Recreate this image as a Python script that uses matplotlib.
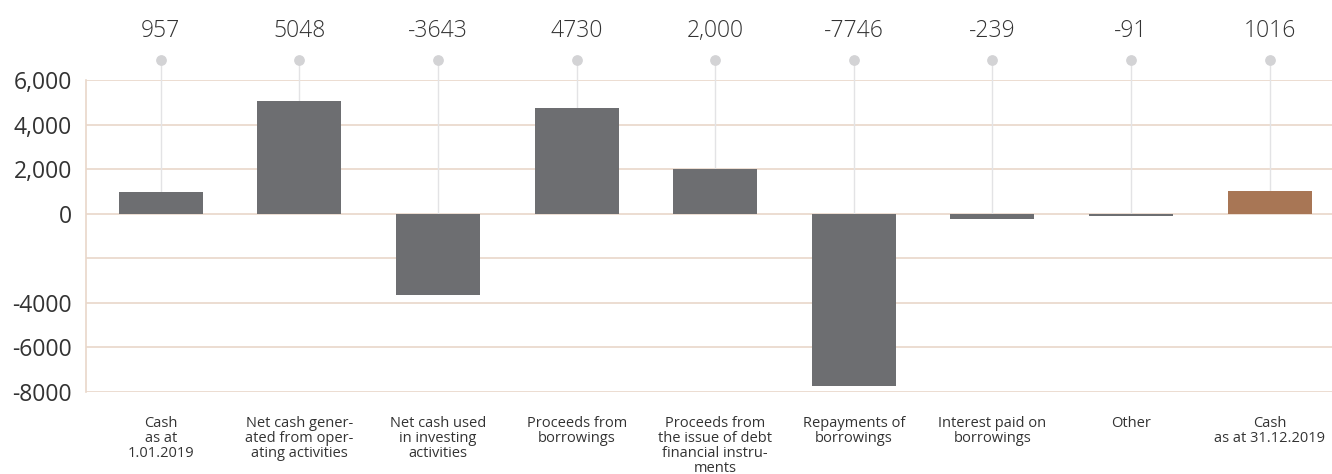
import numpy as np
import matplotlib.pyplot as plt

plt.rcParams['font.family'] = ['Open Sans', 'DejaVu Sans']

# data
categories = ['Cash\nas at\n1.01.2019',
              'Net cash gener-\nated from oper-\nating activities',
              'Net cash used\nin investing\nactivities',
              'Proceeds from\nborrowings',
              'Proceeds from\nthe issue of debt\nfinancial instru-\nments',
              'Repayments of\nborrowings',
              'Interest paid on\nborrowings',
              'Other',
              'Cash\nas at 31.12.2019']
values = [957, 5048, -3643, 4730, 2000, -7746, -239, -91, 1016]
top_labels = ['957', '5048', '-3643', '4730', '2,000', '-7746', '-239', '-91', '1016']
yticks = [6000, 4000, 2000, 0, -2000, -4000, -6000, -8000]
ytick_labels = ['6,000', '4,000', '2,000', '0', '', '-4000', '-6000', '-8000']

grey = '#6d6e71'
brown = '#a87655'
grid_col = '#e9d7ca'
text_col = '#333333'

fig = plt.figure(figsize=(13.32, 4.74), dpi=100)
ax = fig.add_axes([86 / 1332, (474 - 392) / 474, 1 - 86 / 1332, 312 / 474])

x = np.arange(len(values))
colors = [grey] * (len(values) - 1) + [brown]

ax.set_ylim(-8000, 6000)
ax.set_xlim(-0.54, 8.45)

# grid lines
for yv in yticks:
    ax.axhline(yv, color=grid_col, lw=1.2, zorder=1)

# stems and dots above the plot
dot_y = 6900
for xi, v in zip(x, values):
    ax.plot([xi, xi], [max(v, 0), dot_y], color='#e3e3e5', lw=1.0,
            zorder=2, clip_on=False)
ax.scatter(x, [dot_y] * len(x), s=45, color='#d3d3d5', zorder=3, clip_on=False)

ax.bar(x, values, width=0.606, color=colors, zorder=4)

for xi, lab in zip(x, top_labels):
    ax.text(xi, 8200, lab, ha='center', va='center', fontsize=16.5,
            color=text_col, fontweight='light', clip_on=False)

ax.set_yticks(yticks)
ax.set_yticklabels(ytick_labels, fontsize=16.5, color=text_col)
ax.set_xticks(x)
ax.set_xticklabels(categories, fontsize=10.5, color=text_col, linespacing=1.0)
ax.tick_params(axis='y', length=0, pad=10)
ax.tick_params(axis='x', length=0, pad=17)

for s in ['top', 'right', 'bottom']:
    ax.spines[s].set_visible(False)
ax.spines['left'].set_color(grid_col)
ax.spines['left'].set_linewidth(1.2)

fig.savefig('out.png', dpi=100)
